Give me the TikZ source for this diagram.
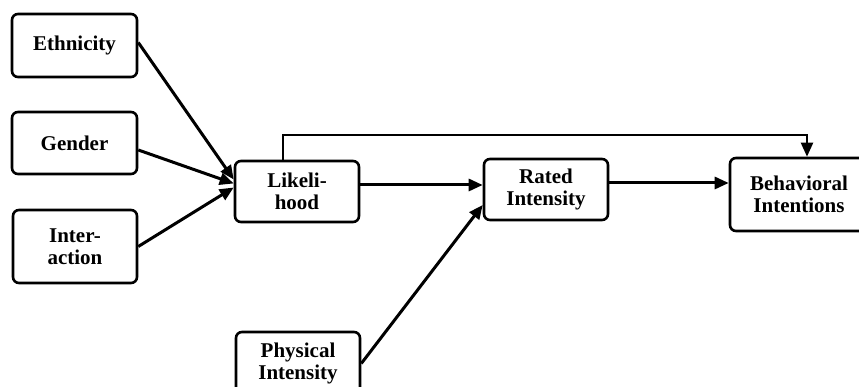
\documentclass[tikz,border=0pt]{standalone}
\usepackage{fontspec}
\setmainfont{Liberation Serif}
\usetikzlibrary{arrows.meta}
\begin{document}
\begin{tikzpicture}[x=1pt,y=1pt,
  box/.style={draw,line width=2.6pt,rounded corners=6pt,align=center,
    font=\bfseries\fontsize{21}{22}\selectfont,inner sep=0pt},
  arr/.style={line width=3pt,-{Triangle[length=14pt,width=12pt]}}]
\clip (0,0) rectangle (859,387);
\fill[white] (0,0) rectangle (859,387);
\node[box,minimum width=125pt,minimum height=63pt] (E) at (74.5,341.5) {Ethnicity};
\node[box,minimum width=125pt,minimum height=62pt] (G) at (74.5,244) {Gender};
\node[box,minimum width=124pt,minimum height=73pt] (I) at (75,140.5) {Inter-\\action};
\node[box,minimum width=124pt,minimum height=61pt] (L) at (297,195.5) {Likeli-\\hood};
\node[box,minimum width=124pt,minimum height=61pt] (R) at (546,197.5) {Rated\\Intensity};
\node[box,minimum width=138pt,minimum height=73pt] (B) at (799,192.5) {Behavioral\\Intentions};
\node[box,minimum width=124pt,minimum height=63pt] (P) at (298,23.5) {Physical\\Intensity};
\draw[arr] ([yshift=3pt]E.east) -- ([yshift=12pt]L.west);
\draw[arr] ([yshift=-7pt]G.east) -- ([yshift=8pt]L.west);
\draw[arr] (I.east) -- ([yshift=4pt]L.west);
\draw[arr] ([yshift=6.5pt]L.east) -- ([yshift=6.5pt]L.east -| R.west);
\draw[arr] (P.east) -- ([yshift=-15.5pt]R.west);
\draw[arr] ([yshift=6.5pt]R.east) -- ([yshift=6.5pt]R.east -| B.west);
\draw[arr,line width=2.2pt] ([xshift=-14pt]L.north) -- ++(0,25) -| ([xshift=8pt]B.north);
\end{tikzpicture}
\end{document}
